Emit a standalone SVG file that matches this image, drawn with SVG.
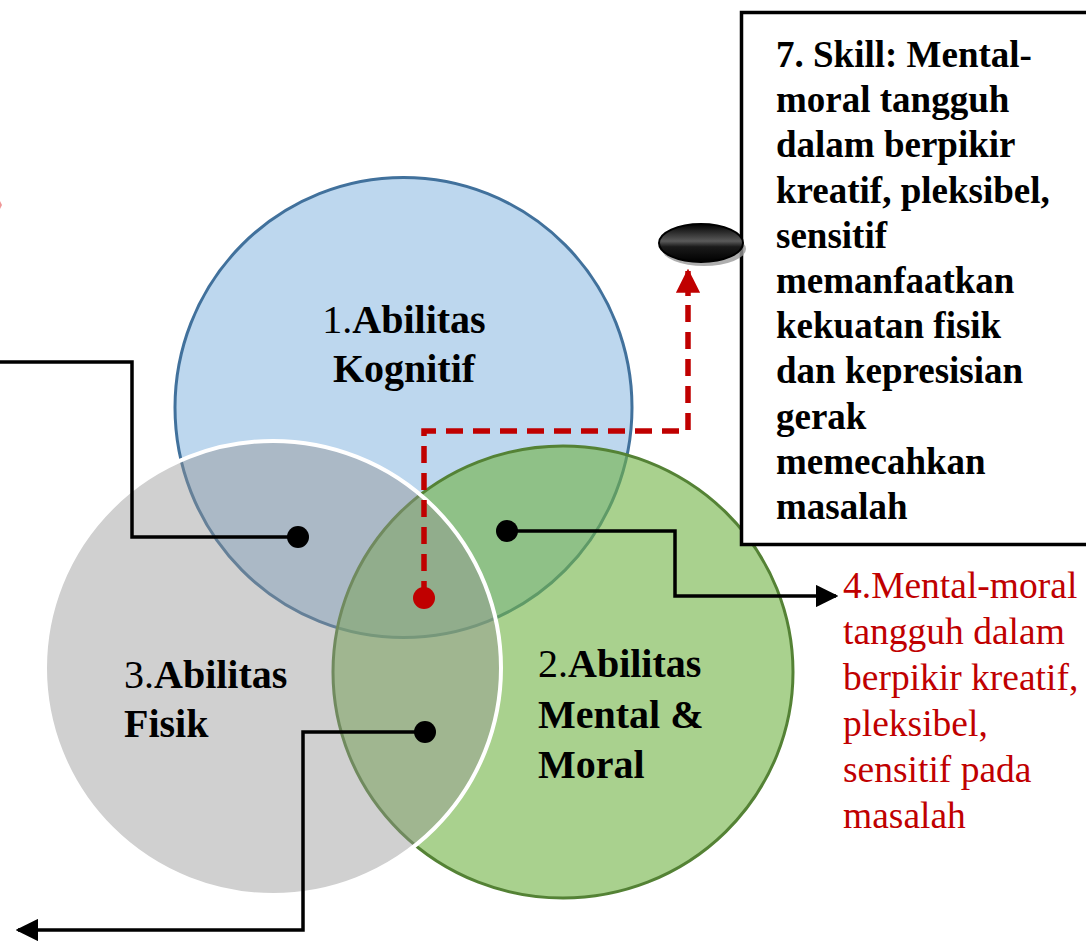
<svg xmlns="http://www.w3.org/2000/svg" width="1086" height="946" viewBox="0 0 1086 946">
<defs>
<style>
.lbl{font-family:"Liberation Serif","Times New Roman",serif;font-size:40px;fill:#000}
.b{font-weight:bold}
.box{font-family:"Liberation Serif","Times New Roman",serif;font-size:37px;font-weight:bold;fill:#000}
.red{font-family:"Liberation Serif","Times New Roman",serif;font-size:37.5px;fill:#C00000}
.conn{fill:none;stroke:#000;stroke-width:3.5}
.dash{fill:none;stroke:#C00000;stroke-width:5.5;stroke-dasharray:17 10}
</style>
<linearGradient id="gloss" x1="0" y1="0" x2="0" y2="1">
<stop offset="0" stop-color="#000"/>
<stop offset="0.45" stop-color="#5a5a5a"/>
<stop offset="0.6" stop-color="#1a1a1a"/>
<stop offset="1" stop-color="#000"/>
</linearGradient>
<marker id="ah" viewBox="0 0 10 10" refX="9" refY="5" markerWidth="6.5" markerHeight="6.5" markerUnits="strokeWidth" orient="auto">
<path d="M0,0 L10,5 L0,10 z" fill="#000"/>
</marker>
<marker id="ahr" viewBox="0 0 10 10" refX="9" refY="5" markerWidth="4.4" markerHeight="4.4" markerUnits="strokeWidth" orient="auto">
<path d="M0,0 L10,5 L0,10 z" fill="#C00000"/>
</marker>
</defs>
<rect width="1086" height="946" fill="#fff"/>

<g id="circle-kognitif">
<ellipse cx="403.5" cy="407.5" rx="228.5" ry="230" fill="#BDD7EE" stroke="#41719C" stroke-width="3"/>
</g>
<g id="circle-mental">
<ellipse cx="563" cy="672" rx="230" ry="226" fill="#72B346" fill-opacity="0.61" stroke="#548235" stroke-width="3"/>
</g>
<g id="circle-fisik">
<ellipse cx="273" cy="668" rx="228" ry="227" fill="#949494" fill-opacity="0.44" stroke="#fff" stroke-width="4"/>
</g>

<g id="labels">
<text class="lbl" x="404" y="333" text-anchor="middle">1.<tspan class="b">Abilitas</tspan></text>
<text class="lbl b" x="404" y="382" text-anchor="middle">Kognitif</text>
<text class="lbl" x="124" y="688">3.<tspan class="b">Abilitas</tspan></text>
<text class="lbl b" x="124" y="737">Fisik</text>
<text class="lbl" x="538" y="677">2.<tspan class="b">Abilitas</tspan></text>
<text class="lbl b" x="538" y="728">Mental &amp;</text>
<text class="lbl b" x="538" y="778">Moral</text>
</g>

<g id="skill-box">
<rect x="741.5" y="12.5" width="360" height="532" fill="#fff" stroke="#000" stroke-width="3.5"/>
<text class="box" x="776" y="67">7. Skill: Mental-</text>
<text class="box" x="776" y="112">moral tangguh</text>
<text class="box" x="776" y="157">dalam berpikir</text>
<text class="box" x="776" y="203">kreatif, pleksibel,</text>
<text class="box" x="776" y="248">sensitif</text>
<text class="box" x="776" y="293">memanfaatkan</text>
<text class="box" x="776" y="338">kekuatan fisik</text>
<text class="box" x="776" y="383">dan kepresisian</text>
<text class="box" x="776" y="429">gerak</text>
<text class="box" x="776" y="474">memecahkan</text>
<text class="box" x="776" y="519">masalah</text>
</g>

<g id="disc">
<ellipse cx="704" cy="249" rx="42" ry="17" fill="#9a9a9a" opacity="0.8"/>
<ellipse cx="701" cy="243" rx="42" ry="19" fill="url(#gloss)" stroke="#000" stroke-width="2"/>
</g>

<g id="result-text">
<text class="red" x="843" y="598">4.Mental-moral</text>
<text class="red" x="843" y="644">tangguh dalam</text>
<text class="red" x="843" y="690">berpikir kreatif,</text>
<text class="red" x="843" y="736">pleksibel,</text>
<text class="red" x="843" y="782">sensitif pada</text>
<text class="red" x="843" y="828">masalah</text>
</g>

<g id="connectors">
<polyline class="conn" points="0,362 132,362 132,537 298,537"/>
<circle cx="298" cy="537" r="11" fill="#000"/>
<polyline class="conn" points="507,531 675,531 675,596 836,596" marker-end="url(#ah)"/>
<circle cx="507" cy="531" r="11" fill="#000"/>
<polyline class="conn" points="425,732 303,732 303,930 18,930" marker-end="url(#ah)"/>
<circle cx="425" cy="732" r="11" fill="#000"/>
<polyline class="dash" points="424,598 424,431 688,431 688,295"/>
<polyline fill="none" stroke="#C00000" stroke-width="5.5" points="688,296 688,271" marker-end="url(#ahr)"/>
<circle cx="424" cy="598" r="11" fill="#C00000"/>
<path d="M0,201 L2,205 L0,209 z" fill="#E03030" opacity="0.5"/>
</g>
</svg>
